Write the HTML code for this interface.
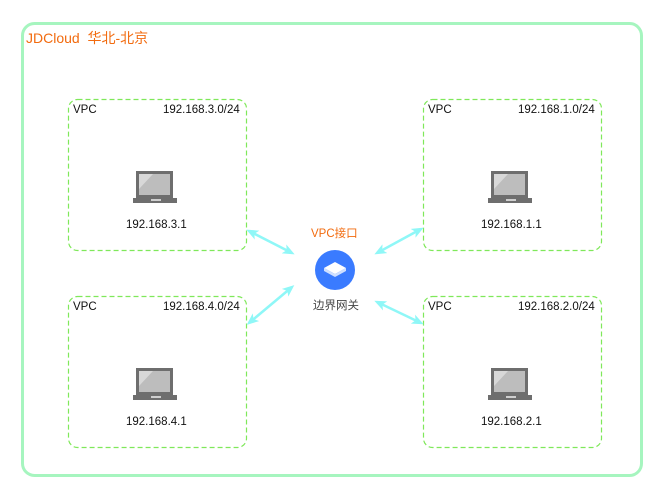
<!DOCTYPE html><html><head><style>
body{margin:0;width:664px;height:499px;background:#fff;font-family:"Liberation Sans","Noto Sans CJK SC",sans-serif;position:relative;overflow:hidden}
.t{position:absolute;font-size:11.5px;color:#111;white-space:nowrap}
</style></head><body>
<svg width="664" height="499" style="position:absolute;left:0;top:0">
<defs>
<marker id="a" markerWidth="12" markerHeight="10" refX="9" refY="5" orient="auto-start-reverse" markerUnits="userSpaceOnUse" viewBox="0 0 12 10"><path d="M0,0 L12,5 L0,10 L3,5z" fill="#8ff7f7"/></marker>
<g id="lp"><rect x="3" y="0" width="37" height="27" fill="#6e6e6e"/><rect x="6" y="3" width="31" height="21" fill="#bdbdbd"/><path d="M6,3 L20,3 L6,18z" fill="#d8d8d8"/><rect x="0" y="27" width="44" height="5" fill="#6e6e6e"/><rect x="18" y="28" width="10" height="2" fill="#cfcfcf"/></g>
</defs>
<rect x="22.5" y="23.5" width="619" height="452" rx="12" fill="none" stroke="#a6f5bf" stroke-width="3"/>
<g fill="none" stroke="#7fe85a" stroke-dasharray="5,3" stroke-width="1.2">
<rect x="68.5" y="99.5" width="178" height="151" rx="9"/>
<rect x="68.5" y="296.5" width="178" height="151" rx="9"/>
<rect x="423.5" y="99.5" width="178" height="151" rx="9"/>
<rect x="423.5" y="296.5" width="178" height="151" rx="9"/>
</g>
<use href="#lp" x="133" y="171"/><use href="#lp" x="133" y="368"/><use href="#lp" x="488" y="171"/><use href="#lp" x="488" y="368"/>
<g stroke="#8ff7f7" stroke-width="2.5" marker-start="url(#a)" marker-end="url(#a)">
<line x1="249" y1="231" x2="292" y2="253"/>
<line x1="292" y1="287" x2="249" y2="323"/>
<line x1="377" y1="253" x2="421" y2="229"/>
<line x1="377" y1="302" x2="421" y2="323"/>
</g>
<circle cx="335" cy="270" r="20" fill="#3a7bff"/>
<path d="M324,268 L335,262 L346,268 L335,274z" fill="#fff"/><path d="M324,268 L324,271 L335,277 L346,271 L346,268 L335,274z" fill="#cfe0ff"/>
</svg>
<div class="t" style="left:26px;top:28px;font-size:14px;color:#f26b0f">JDCloud&nbsp; 华北-北京</div>
<div class="t" style="left:73px;top:104px">VPC</div><div class="t" style="left:163px;top:104px">192.168.3.0/24</div>
<div class="t" style="left:126px;top:219px">192.168.3.1</div>
<div class="t" style="left:73px;top:301px">VPC</div><div class="t" style="left:163px;top:301px">192.168.4.0/24</div>
<div class="t" style="left:126px;top:416px">192.168.4.1</div>
<div class="t" style="left:428px;top:104px">VPC</div><div class="t" style="left:518px;top:104px">192.168.1.0/24</div>
<div class="t" style="left:481px;top:219px">192.168.1.1</div>
<div class="t" style="left:428px;top:301px">VPC</div><div class="t" style="left:518px;top:301px">192.168.2.0/24</div>
<div class="t" style="left:481px;top:416px">192.168.2.1</div>
<div class="t" style="left:311px;top:225px;color:#f26b0f">VPC接口</div>
<div class="t" style="left:313px;top:297px;color:#444">边界网关</div>
</body></html>
